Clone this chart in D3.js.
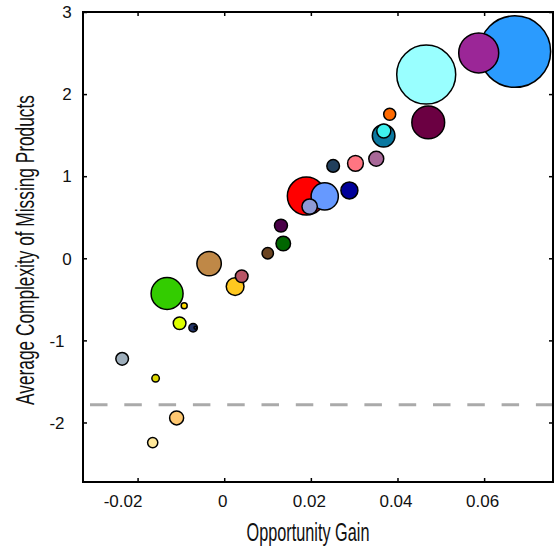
<!DOCTYPE html>
<html><head><meta charset="utf-8">
<script src="https://cdn.jsdelivr.net/npm/d3@7"></script>
<style>body{margin:0;background:#fff}svg{display:block}</style>
</head><body>
<script>
// ---- data ----
const gain = [0.0671, 0.05875, 0.04663, 0.0471, 0.0382, 0.0368, 0.03684, 0.0351, 0.0303, 0.02515,
  0.0289, 0.01896, 0.0232, 0.01972, 0.0131, 0.01363, 0.01005, -0.00349, 0.00404, 0.00252,
  -0.01319, -0.00924, -0.0103, -0.00718, -0.00665, -0.02356, -0.01584, -0.01099, -0.01651];
const complexity = [2.518, 2.502, 2.238, 1.655, 1.755, 1.493, 1.551, 1.213, 1.156, 1.125,
  0.827, 0.758, 0.754, 0.630, 0.398, 0.180, 0.061, -0.0645, -0.219, -0.344,
  -0.429, -0.578, -0.791, -0.846, -0.846, -1.225, -1.462, -1.944, -2.245];
const weight = [1278, 400, 870, 269, 36, 128, 49, 56, 62, 40,
  72, 361, 185, 59, 42, 53, 32, 149, 40, 79,
  256, 9, 40, 18, 2, 40, 14, 49, 26];
const colors = ["#2b9bfe", "#9b2697", "#99ffff", "#6b0042", "#ff6a00", "#0a78a0", "#3ff0ee", "#a86898", "#ff7582", "#213f5c",
  "#000099", "#ff0000", "#6699ff", "#8f99d4", "#4a0048", "#006600", "#6b4421", "#bf8847", "#b85566", "#ffc820",
  "#33cc00", "#ffdd00", "#ddff00", "#223366", "#223366", "#9eaebb", "#ddd800", "#ffc871", "#ffe89a"];
const xTicks = [-0.02, 0, 0.02, 0.04, 0.06];
const xTickLabels = ["-0.02", "0", "0.02", "0.04", "0.06"];
const yTicks = [-2, -1, 0, 1, 2, 3];
const yTickLabels = ["-2", "-1", "0", "1", "2", "3"];
const threshold = -1.785;
const xTitle = "Opportunity Gain";
const yTitle = "Average Complexity of Missing Products";

// ---- chart ----
const W = 558, H = 546;
const L = 83, R = 553, T = 12, B = 482;
const svg = d3.select("body").append("svg").attr("width", W).attr("height", H);
const x = d3.scaleLinear().domain([-0.0326, 0.0759]).range([L, R]);
const y = d3.scaleLinear().domain([-2.725, 3]).range([B, T]);
const r = d3.scaleSqrt().domain([0, d3.max(weight)]).range([0, 35.75]);
const font = "'Liberation Sans Narrow', 'Liberation Sans', Arial, sans-serif";

// dashed threshold line
svg.append("line")
  .attr("x1", L).attr("x2", R).attr("y1", y(threshold)).attr("y2", y(threshold))
  .attr("stroke", "#aaaaaa").attr("stroke-width", 3).attr("stroke-dasharray", "17.5,16.8")
  .attr("stroke-dashoffset", -7);

// bubbles
const pts = gain.map((g, i) => ({ g, c: complexity[i], w: weight[i], col: colors[i] }))
  .sort((a, b) => b.w - a.w);
svg.append("g").selectAll("circle").data(pts).join("circle")
  .attr("cx", d => x(d.g)).attr("cy", d => y(d.c)).attr("r", d => r(d.w))
  .attr("fill", d => d.col).attr("stroke", "#000").attr("stroke-width", 1.5);

// axes
const tk = 4;
const ax = d3.axisBottom(x).tickValues(xTicks).tickSizeInner(-tk).tickSizeOuter(0)
  .tickFormat((d, i) => xTickLabels[i]);
const gx = svg.append("g").attr("transform", `translate(0,${B})`).call(ax);
gx.select(".domain").remove();
gx.selectAll("line").attr("stroke-width", 1.5);
gx.selectAll("text").attr("font-family", font).attr("font-size", 17).attr("fill", "#111")
  .attr("y", 13).attr("dy", "0.71em")
  .attr("dx", (d) => d < 0 ? -15 : -2);
const axT = d3.axisTop(x).tickValues(xTicks).tickSizeInner(-tk).tickSizeOuter(0).tickFormat("");
const gxt = svg.append("g").attr("transform", `translate(0,${T})`).call(axT);
gxt.select(".domain").remove();
gxt.selectAll("line").attr("stroke-width", 1.5);

const ay = d3.axisLeft(y).tickValues(yTicks).tickSizeInner(-tk).tickSizeOuter(0)
  .tickFormat((d, i) => yTickLabels[i]);
const gy = svg.append("g").attr("transform", `translate(${L},0)`).call(ay);
gy.select(".domain").remove();
gy.selectAll("line").attr("stroke-width", 1.5);
gy.selectAll("text").attr("font-family", font).attr("font-size", 17).attr("fill", "#111")
  .attr("text-anchor", "middle").attr("x", d => d < 0 ? -26 : -16).attr("dy", "0.34em");
const ayR = d3.axisRight(y).tickValues(yTicks).tickSizeInner(-tk).tickSizeOuter(0).tickFormat("");
const gyr = svg.append("g").attr("transform", `translate(${R},0)`).call(ayR);
gyr.select(".domain").remove();
gyr.selectAll("line").attr("stroke-width", 1.5);

// frame
svg.append("rect").attr("x", L).attr("y", T).attr("width", R - L).attr("height", B - T)
  .attr("fill", "none").attr("stroke", "#000").attr("stroke-width", 2);

// titles (condensed by horizontal scaling to the reference widths)
function condensed(g, label, width) {
  const t = g.append("text").attr("text-anchor", "middle").attr("font-family", font)
    .attr("font-size", 26).attr("fill", "#111").text(label);
  const w = t.node().getComputedTextLength();
  t.attr("transform", `scale(${width / w},1)`);
}
condensed(svg.append("g").attr("transform", "translate(308,541)"), xTitle, 123);
condensed(svg.append("g").attr("transform", "translate(34,250) rotate(-90)"), yTitle, 310);
</script>
</body></html>
